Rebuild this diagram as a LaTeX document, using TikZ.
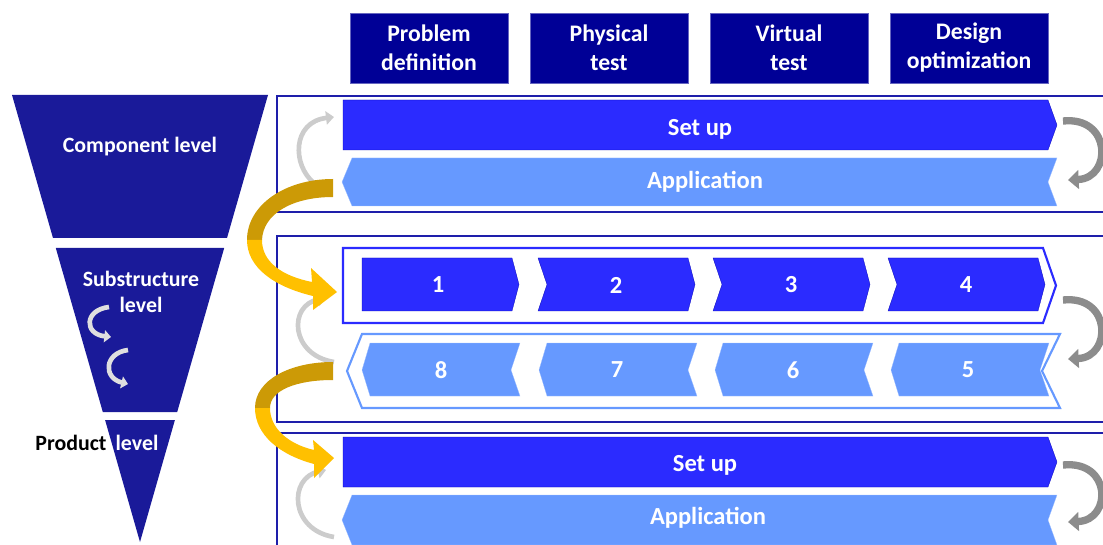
\documentclass[tikz,border=0pt]{standalone}
\usepackage{fontspec}
\setmainfont{Carlito}
\usetikzlibrary{arrows.meta}
\definecolor{hdrblue}{RGB}{0,0,150}
\definecolor{funnelblue}{RGB}{26,26,153}
\definecolor{brightblue}{RGB}{43,43,255}
\definecolor{paleblue}{RGB}{102,153,255}
\definecolor{framenavy}{RGB}{30,30,170}
\definecolor{goldbright}{RGB}{255,192,0}
\definecolor{golddark}{RGB}{204,154,6}
\begin{document}
\begin{tikzpicture}
	[
		x=0.75pt, y=-0.75pt,
		hdr/.style={
				rectangle,
				fill=hdrblue,
				draw=hdrblue!60,
				ultra thin,
				text=white,
				minimum width=118.5pt,
				minimum height=52.5pt,
				align=center,
				font=\fontsize{17.8}{21.8}\selectfont\bfseries,
			},
		lvl/.style={
				text=white,
				align=center,
				font=\fontsize{16.4}{19.5}\selectfont\bfseries,
			},
		bartext/.style={
				text=white,
				font=\fontsize{18.4}{20}\selectfont\bfseries,
			},
		panel/.style={
				draw=framenavy,
				line width=1.3pt,
			},
		darkbar/.style={
				fill=brightblue,
				draw=blue!70!black,
				very thin,
			},
		lightbar/.style={
				fill=paleblue,
				draw=white!40!paleblue,
				very thin,
			},
		loopback/.style={
				draw=gray!80!black!75,
				line width=5.5pt,
				-{Triangle[length=8pt,width=14pt]},
			},
		loopup/.style={
				draw=gray!40,
				line width=3.5pt,
				-{Triangle[length=6pt,width=10pt]},
			},
		loopsmall/.style={
				draw=gray!25,
				line width=3.5pt,
				-{Triangle[length=5pt,width=9pt]},
			},
	]
	\useasboundingbox (0,0) rectangle (1103,545);

	\node [hdr] (pd) at (429,48) {Problem\\definition};
	\node [hdr] (pt) at (609,48) {Physical\\test};
	\node [hdr] (vt) at (789,48) {Virtual\\test};
	\node [hdr] (do) at (969,48) {Design\\optimization};

	\fill [funnelblue] (12,95) -- (268,95) -- (227,238) -- (53,238) -- cycle;
	\fill [funnelblue] (55.8,248) -- (224.2,248) -- (177.2,412) -- (102.8,412) -- cycle;
	\fill [funnelblue] (105.1,420) -- (174.9,420) -- (140,542) -- cycle;
	\node [lvl] (comp) at (140,147) {Component level};
	\node [lvl] (sub) at (141,292) {Substructure\\level};
	\node [lvl, text=black] (prod) at (71,443) {Product};
	\node [lvl] (prodlvl) at (137,443) {level};
	\draw [loopsmall] (109,307) .. controls (84,310) and (84,334) .. (111,337);
	\draw [loopsmall] (128,350) .. controls (104,353) and (103,378) .. (128,384);

	\draw [panel] (1103,96) -- (277,96) -- (277,212) -- (1103,212);
	\draw [panel] (1103,236) -- (277,236) -- (277,422) -- (1103,422);
	\draw [panel] (1103,433) -- (277,433) -- (277,545);

	\fill [darkbar] (343,100) -- (1048,100) -- (1057,125) -- (1048,150) -- (343,150) -- cycle;
	\fill [lightbar] (352,158) -- (1057,158) -- (1048,182) -- (1057,206) -- (352,206) -- (342,182) -- cycle;
	\node [bartext] (su1) at (700,129) {Set up};
	\node [bartext] (ap1) at (705,182) {Application};

	\draw [brightblue, line width=1.6pt] (343,248) -- (1043,248) -- (1056,285.5) -- (1043,323) -- (343,323) -- cycle;
	\draw [paleblue, line width=1.6pt] (362,334) -- (1060,334) -- (1042,371) -- (1060,408) -- (362,408) -- (347,371) -- cycle;
	\filldraw [darkbar] (362,258) -- (512,258) -- (519,284.5) -- (512,311) -- (362,311) -- cycle;
	\foreach \s in {538,713,888}
		\filldraw [darkbar] (\s,258) -- (\s+150,258) -- (\s+157,284.5) -- (\s+150,311) -- (\s,311) -- (\s+9,284.5) -- cycle;
	\foreach \t in {362,539,715,891}
		\filldraw [lightbar] (\t,370) -- (\t+8,343) -- (\t+158,343) -- (\t+149,370) -- (\t+158,396) -- (\t+8,396) -- cycle;
	\node [bartext] (st1) at (438,285) {1};
	\node [bartext] (st2) at (616,285) {2};
	\node [bartext] (st3) at (791,285) {3};
	\node [bartext] (st4) at (966,285) {4};
	\node [bartext] (st8) at (441,370) {8};
	\node [bartext] (st7) at (617,370) {7};
	\node [bartext] (st6) at (793,370) {6};
	\node [bartext] (st5) at (968,370) {5};

	\fill [darkbar] (343,437) -- (1048,437) -- (1057,462) -- (1048,487) -- (343,487) -- cycle;
	\fill [lightbar] (352,495) -- (1057,495) -- (1048,520) -- (1057,545) -- (352,545) -- (342,520) -- cycle;
	\node [bartext] (su3) at (705,465) {Set up};
	\node [bartext] (ap3) at (708,518) {Application};

	\draw [loopback] (1063,121) .. controls (1112,116) and (1112,178) .. (1068,180);
	\draw [loopback] (1063,300) .. controls (1112,295) and (1112,357) .. (1068,359);
	\draw [loopback] (1063,465) .. controls (1112,460) and (1112,520) .. (1068,522);

	\draw [loopup] (314,183) .. controls (292,165) and (292,122) .. (334,117);
	\draw [loopup] (334,362) .. controls (290,355) and (288,305) .. (326,298);
	\draw [loopup] (334,537) .. controls (290,530) and (288,478) .. (326,470);

	\fill [golddark] (333,179) .. controls (285,179) and (247,205) .. (247,240) -- (262,240) .. controls (263,214) and (292,197) .. (333,197) -- cycle;
	\fill [goldbright] (247,240) .. controls (247,268) and (275,287) .. (313,296) -- (313,310) -- (337,292) -- (311,268) -- (312,282) .. controls (282,276) and (262,262) .. (262,240) -- cycle;
	\fill [golddark] (333,362) .. controls (290,362) and (255,380) .. (255,408) -- (270,408) .. controls (270,390) and (297,380) .. (333,380) -- cycle;
	\fill [goldbright] (255,408) .. controls (255,435) and (280,455) .. (314,464) -- (314,478) -- (334,458) -- (313,440) -- (314,450) .. controls (288,444) and (270,428) .. (270,408) -- cycle;
\end{tikzpicture}
\end{document}
